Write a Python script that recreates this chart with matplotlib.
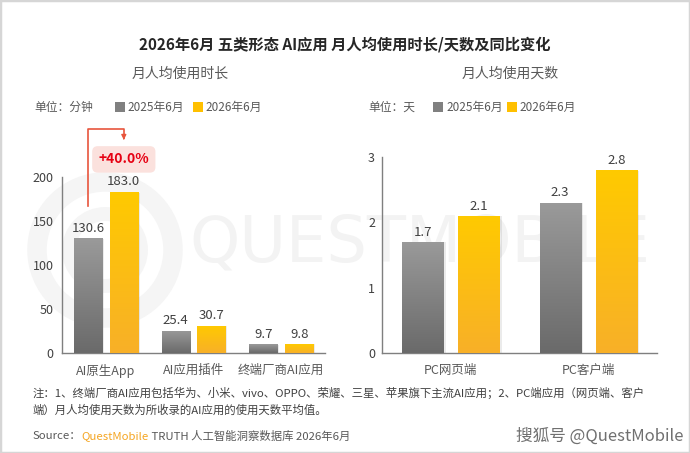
import matplotlib
matplotlib.use("Agg")
import matplotlib.pyplot as plt
import numpy as np
from matplotlib.patches import Rectangle, Circle
from matplotlib.colors import LinearSegmentedColormap

plt.rcParams['font.family'] = ['Noto Sans CJK SC', 'DejaVu Sans']

# ---------------- data ----------------
title = "2026年6月 五类形态 AI应用 月人均使用时长/天数及同比变化"
left_title = "月人均使用时长"
right_title = "月人均使用天数"
series_names = ["2025年6月", "2026年6月"]
left_cats = ["AI原生App", "AI应用插件", "终端厂商AI应用"]
left_2025 = [130.6, 25.4, 9.7]
left_2026 = [183.0, 30.7, 9.8]
left_ticks = [0, 50, 100, 150, 200]
right_cats = ["PC网页端", "PC客户端"]
right_2025 = [1.7, 2.3]
right_2026 = [2.1, 2.8]
right_ticks = [0, 1, 2, 3]
growth_label = "+40.0%"
note1 = "注：1、终端厂商AI应用包括华为、小米、vivo、OPPO、荣耀、三星、苹果旗下主流AI应用；2、PC端应用（网页端、客户"
note2 = "端）月人均使用天数为所收录的AI应用的使用天数平均值。"

W, H = 690, 453
fig = plt.figure(figsize=(W / 100, H / 100), dpi=100)
fig.patch.set_facecolor("white")

def fx(px): return px / W
def fy(py): return 1 - py / H

# background watermark axes (full figure, pixel coordinates)
bg = fig.add_axes([0, 0, 1, 1], zorder=-10)
bg.set_xlim(0, W); bg.set_ylim(H, 0); bg.axis("off")
bg.text(420, 243, "QUESTMOBILE", fontsize=46, color="#f3f3f3",
        ha="center", va="center", family="DejaVu Sans")
bg.add_patch(Circle((105, 250), 68, fill=False, lw=14, ec="#f5f5f5"))
bg.add_patch(Circle((105, 250), 36, fill=False, lw=10, ec="#f5f5f5"))

gray_cmap = LinearSegmentedColormap.from_list("g", ["#6a6a6a", "#9a9a9a"])
yel_cmap = LinearSegmentedColormap.from_list("y", ["#f8b028", "#ffca00"])
grad = np.linspace(0, 1, 256).reshape(-1, 1)

def grad_bars(ax, xs, vals, width, cmap):
    bars = ax.bar(xs, vals, width, color="none", edgecolor="none", zorder=3)
    for b in bars:
        x0, w, h = b.get_x(), b.get_width(), b.get_height()
        ax.bar(x0 + w / 2 + w * 0.06, h * 0.995, w, color="black", alpha=0.08,
               zorder=2, edgecolor="none")
        im = ax.imshow(grad, extent=(x0, x0 + w, 0, h), origin="lower",
                       cmap=cmap, aspect="auto", zorder=3)
        im.set_clip_path(b)
    return bars

def style_axis(ax, cats, ticks):
    for s in ["top", "right"]:
        ax.spines[s].set_visible(False)
    for s in ["left", "bottom"]:
        ax.spines[s].set_color("#7f7f7f")
        ax.spines[s].set_linewidth(1.0)
    ax.set_xticks(range(len(cats)))
    ax.set_xticklabels(cats, fontsize=9, color="#595959")
    ax.set_yticks(ticks)
    ax.set_yticklabels([str(t) for t in ticks], fontsize=9, color="#404040")
    ax.tick_params(axis="x", length=0, pad=8)
    ax.tick_params(axis="y", length=0, pad=6)
    ax.patch.set_alpha(0)

# ---------------- left chart ----------------
axL = fig.add_axes([fx(62), fy(353), fx(325) - fx(62), (353 - 177) / H], zorder=1)
xL = np.arange(len(left_cats))
off, bw = 0.205, 0.32
grad_bars(axL, xL - off, left_2025, bw, gray_cmap)
grad_bars(axL, xL + off, left_2026, bw, yel_cmap)
axL.set_xlim(-0.5, len(left_cats) - 0.5)
axL.set_ylim(0, 200)
style_axis(axL, left_cats, left_ticks)
for x, v in zip(xL - off, left_2025):
    axL.text(x, v + 4, f"{v:.1f}", ha="center", va="bottom", fontsize=9.5, color="#404040")
for x, v in zip(xL + off, left_2026):
    axL.text(x, v + 4, f"{v:.1f}", ha="center", va="bottom", fontsize=9.5, color="#404040")

# growth bracket
red = "#e8553d"
axL.plot([-off, -off, off, off], [167, 254, 254, 245], color=red, lw=1.2,
         clip_on=False, zorder=5)
axL.annotate("", xy=(off, 239), xytext=(off, 247),
             arrowprops=dict(arrowstyle="-|>", color=red, lw=1.0, mutation_scale=7),
             annotation_clip=False)
axL.text(off, 220, growth_label, ha="center", va="center", fontsize=10,
         fontweight="bold", color="#e60012", zorder=6, clip_on=False,
         bbox=dict(boxstyle="round,pad=0.45,rounding_size=0.4", fc="#fbe1dd", ec="none"))

# ---------------- right chart ----------------
axR = fig.add_axes([fx(382), fy(353), fx(657) - fx(382), (353 - 157) / H], zorder=1)
xR = np.arange(len(right_cats))
offR, bwR = 0.204, 0.30
grad_bars(axR, xR - offR, right_2025, bwR, gray_cmap)
grad_bars(axR, xR + offR, right_2026, bwR, yel_cmap)
axR.set_xlim(-0.5, len(right_cats) - 0.5)
axR.set_ylim(0, 3)
style_axis(axR, right_cats, right_ticks)
axR.tick_params(axis="y", pad=5)
for x, v in zip(xR - offR, right_2025):
    axR.text(x, v + 0.05, f"{v:.1f}", ha="center", va="bottom", fontsize=9.5, color="#404040")
for x, v in zip(xR + offR, right_2026):
    axR.text(x, v + 0.05, f"{v:.1f}", ha="center", va="bottom", fontsize=9.5, color="#404040")

# ---------------- titles & legends ----------------
fig.text(0.5, fy(45), title, ha="center", va="center", fontsize=11,
         fontweight="bold", color="#262626")
fig.text(fx(180), fy(74), left_title, ha="center", va="center", fontsize=10, color="#595959")
fig.text(fx(510), fy(74), right_title, ha="center", va="center", fontsize=10, color="#595959")

def legend_row(x_unit, unit_text, x_sq1, x_t1, x_sq2, x_t2, y=107):
    fig.text(fx(x_unit), fy(y), unit_text, ha="left", va="center", fontsize=8.5, color="#595959")
    for xs, c in [(x_sq1, "#808080"), (x_sq2, "#ffc000")]:
        fig.patches.append(Rectangle((fx(xs), fy(y + 5)), 10 / W, 10 / H,
                                     transform=fig.transFigure, fc=c, ec="none"))
    fig.text(fx(x_t1), fy(y), series_names[0], ha="left", va="center", fontsize=8.5, color="#595959")
    fig.text(fx(x_t2), fy(y), series_names[1], ha="left", va="center", fontsize=8.5, color="#595959")

legend_row(34, "单位：分钟", 115, 127, 193, 205)
legend_row(368, "单位：天", 433, 446, 507, 519)

# ---------------- footnotes ----------------
fs = 8.2
fig.text(fx(33), fy(393), note1, ha="left", va="center", fontsize=fs, color="#404040")
fig.text(fx(33), fy(410), note2, ha="left", va="center", fontsize=fs, color="#404040")
t1 = fig.text(fx(33), fy(436), "Source：", ha="left", va="center", fontsize=fs, color="#595959")
t2 = fig.text(0, 0, "QuestMobile", fontsize=fs, color="#f5a623", va="center")
t3 = fig.text(0, 0, " TRUTH 人工智能洞察数据库 2026年6月", fontsize=fs, color="#595959", va="center")
fig.canvas.draw()
r = fig.canvas.get_renderer()
bb = t1.get_window_extent(r)
t2.set_position((bb.x1 / W, fy(436)))
fig.canvas.draw()
bb2 = t2.get_window_extent(r)
t3.set_position((bb2.x1 / W, fy(436)))
fig.text(fx(684), fy(436), "搜狐号 @QuestMobile", ha="right", va="center", fontsize=12,
         color="#707070", style="italic")

# border
fig.patches.append(Rectangle((0, 0), 1, 1, transform=fig.transFigure, fill=False,
                             ec="#d6d6d6", lw=2.5))

fig.savefig("out.png", dpi=100, facecolor="white")
